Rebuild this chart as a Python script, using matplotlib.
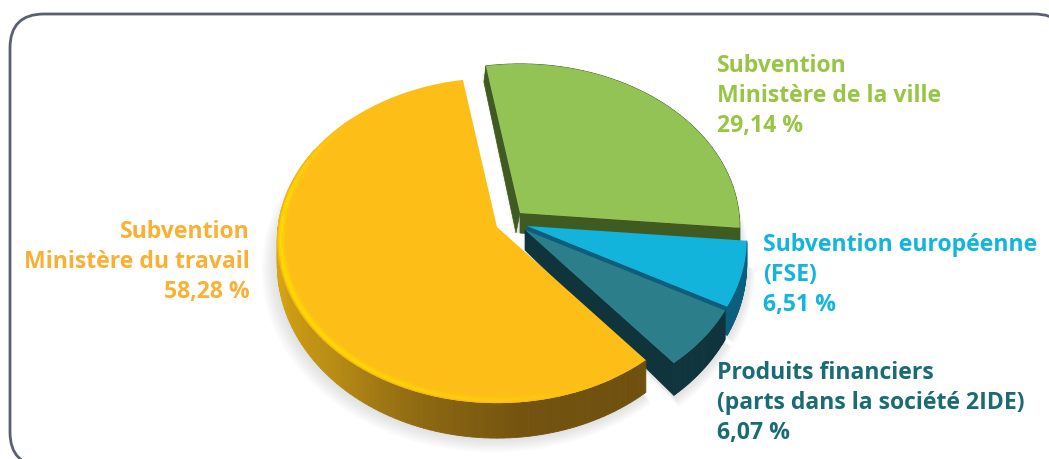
import numpy as np
import matplotlib
matplotlib.use("Agg")
import matplotlib.pyplot as plt
from matplotlib.patches import Polygon, FancyBboxPatch
from matplotlib.colors import to_rgb

# parts of the budget, in the order they run counterclockwise
names = ["Ministère du travail", "Produits financiers", "FSE", "Ministère de la ville"]
shares = [58.28, 6.07, 6.51, 29.14]
start_angle = 99.7

top_colors = ["#fdbf17", "#2c7f8a", "#12b4dc", "#93c355"]
wall_colors = ["#7a5a12", "#0f343c", "#0b5f7d", "#3f5b22"]
apexes = [(497, 227), (525, 230), (527, 226), (520, 213)]

# side shading of the large slice, from left to the front
yellow_angles = [170, 195, 225, 250, 275, 310]
yellow_shades = ["#e0aa10", "#d6a312", "#b98c14", "#8f6a12", "#73530f", "#6f500f"]

label_lines = [
    ["Subvention", "Ministère du travail", "58,28 %"],
    ["Produits financiers", "(parts dans la société 2IDE)", "6,07 %"],
    ["Subvention européenne", "(FSE)", "6,51 %"],
    ["Subvention", "Ministère de la ville", "29,14 %"],
]
label_colors = ["#fbb034", "#1a6b74", "#13b5dc", "#98c544"]
label_pos = [(250, 232, "right"), (717, 373, "left"), (763, 245, "left"), (717, 66, "left")]

A, B, K = 219.0, 161.5, 0.083


def project(ang, apex, r=1.0):
    # tilted circle with a little perspective, angles in degrees
    X = r * np.cos(np.radians(ang))
    Y = r * np.sin(np.radians(ang))
    s = 1 / (1 + K * Y)
    return apex[0] + A * X * s, apex[1] - B * Y * s


def depth(ang):
    return 23 - 12 * np.sin(np.radians(ang))


def arc(a0, a1, apex, r=1.0, n=120):
    ang = np.linspace(a0, a1, n)
    x, y = project(ang, apex, r)
    return np.column_stack([x, y])


def lerp_color(ang):
    rgb = np.array([to_rgb(c) for c in yellow_shades])
    return [np.interp(ang, yellow_angles, rgb[:, i]) for i in range(3)]


fig = plt.figure(figsize=(10.49, 4.59), dpi=100)
ax = fig.add_axes([0, 0, 1, 1])
ax.set_xlim(0, 1049)
ax.set_ylim(459, 0)
ax.axis("off")

ax.add_patch(FancyBboxPatch((10, 14), 1058, 452, boxstyle="round,pad=0,rounding_size=34",
                            fc="white", ec="#5a6072", lw=2))

edges = start_angle + np.cumsum([0] + [s * 3.6 for s in shares])
spans = [(edges[i], edges[i + 1]) for i in range(4)]

# soft shadow round the pie, grown outward in faint layers
for grow in np.arange(12, 0, -1.5):
    for i in range(4):
        a0, a1 = spans[i]
        ang = np.linspace(a0, a1, 120)
        x, y = project(ang, apexes[i], 1 + grow / 220)
        pts = np.column_stack([x - grow * 0.3, y + depth(ang) + grow * 0.3])
        ax.add_patch(Polygon(np.vstack([pts, [apexes[i][0] - grow * 0.6, apexes[i][1] + 20]]),
                             fc="#555555", ec="none", alpha=0.018, zorder=1))

# back to front so the nearer slices cover the walls behind them
for z, i in enumerate([3, 2, 1, 0]):
    a0, a1 = spans[i]
    apex = apexes[i]
    zb = 2 + z * 3
    wall = wall_colors[i]

    # cut faces that look toward the front
    if i in (1, 2):
        c = project(a0, apex)
        ax.add_patch(Polygon([apex, c, (c[0], c[1] + depth(a0)), (apex[0], apex[1] + 20)],
                             fc=wall, ec=wall, lw=0.5, zorder=zb))
    if i == 3:
        c = project(a0, apex)
        ax.add_patch(Polygon([apex, c, (c[0], c[1] + depth(a0)), (apex[0], apex[1] + 20)],
                             fc=wall, ec=wall, lw=0.5, zorder=zb))
        c = project(a1, apex)
        ax.add_patch(Polygon([apex, c, (c[0] - 2, c[1] + 16), (apex[0] - 4, apex[1] + 20)],
                             fc=wall, ec=wall, lw=0.5, zorder=zb))
    # outer wall as short quads, shaded on the yellow slice
    if i == 0:
        ang = np.arange(max(a0, 150), a1 + 1.5, 1.5)
        ang[-1] = a1
    else:
        ang = np.linspace(a0, a1, 50)
    for u, v in zip(ang[:-1], ang[1:]):
        x0, y0 = project(u, apex)
        x1, y1 = project(v, apex)
        col = lerp_color(u) if i == 0 else wall
        ax.add_patch(Polygon([(x0, y0), (x1, y1), (x1, y1 + depth(v)), (x0, y0 + depth(u))],
                             fc=col, ec=col, lw=0.6, zorder=zb))
    # top face
    ax.add_patch(Polygon(np.vstack([arc(a0, a1, apex), apex]), fc=top_colors[i],
                         ec="none", zorder=zb + 1))

# bright rim on the left of the large slice, strongest just inside the edge
rim = np.arange(135, 300, 2.0)
base = np.array(to_rgb("#fdbf17"))
glow = np.array(to_rgb("#ffdc00"))
dark = np.array(to_rgb("#e8ad12"))
radii = [1.0, 0.994, 0.988, 0.982, 0.976, 0.970, 0.964]
weights = [-0.5, 0.6, 1.0, 0.9, 0.55, 0.2]
for r0, r1, w in zip(radii[:-1], radii[1:], weights):
    for u, v in zip(rim[:-1], rim[1:]):
        fade = np.clip(min((u - 135) / 35, (300 - u) / 70), 0, 1) * w
        if fade >= 0:
            col = base * (1 - fade) + glow * fade
        else:
            col = base * (1 + fade) + dark * (-fade)
        ax.add_patch(Polygon(np.vstack([arc(u, v + 0.4, apexes[0], r0, 4),
                                        arc(v + 0.4, u, apexes[0], r1, 4)]),
                             fc=col, ec="none", zorder=20))

for lines, col, (x, y, ha) in zip(label_lines, label_colors, label_pos):
    for j, line in enumerate(lines):
        ax.text(x, y + j * 30, line, color=col, ha=ha, va="center", fontsize=16.6,
                family="Open Sans", fontweight="bold", zorder=30)

fig.savefig("out.png", dpi=100)
